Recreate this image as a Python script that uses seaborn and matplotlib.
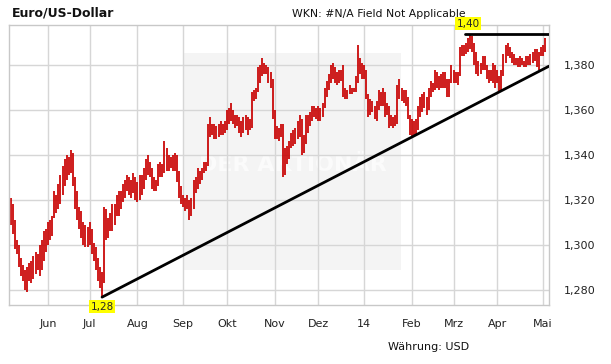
import numpy as np
import pandas as pd
import matplotlib
matplotlib.use("Agg")
import matplotlib.pyplot as plt
import seaborn as sns
from matplotlib.patches import Rectangle

# trading days shown in the chart
dates = pd.bdate_range("2013-05-08", "2014-05-02")

lows = [
    1.309, 1.305, 1.298, 1.296, 1.290, 1.286, 1.284, 1.280, 1.279, 1.284,
    1.283, 1.285, 1.287, 1.289, 1.286, 1.289, 1.293, 1.297, 1.300, 1.302,
    1.304, 1.312, 1.314, 1.316, 1.318, 1.322, 1.326, 1.329, 1.331, 1.332,
    1.326, 1.316, 1.311, 1.307, 1.303, 1.300, 1.299, 1.299, 1.300, 1.296,
    1.293, 1.289, 1.284, 1.281, 1.2768, 1.283, 1.302, 1.303, 1.306, 1.306,
    1.309, 1.313, 1.313, 1.316, 1.319, 1.321, 1.324, 1.322, 1.321, 1.323,
    1.320, 1.319, 1.320, 1.322, 1.325, 1.329, 1.331, 1.330, 1.325, 1.324,
    1.324, 1.326, 1.330, 1.330, 1.332, 1.333, 1.333, 1.334, 1.333, 1.333,
    1.328, 1.321, 1.318, 1.317, 1.315, 1.316, 1.311, 1.313, 1.316, 1.323,
    1.325, 1.327, 1.329, 1.332, 1.333, 1.335, 1.348, 1.349, 1.347, 1.347,
    1.348, 1.349, 1.349, 1.350, 1.351, 1.354, 1.355, 1.354, 1.352, 1.353,
    1.350, 1.348, 1.350, 1.351, 1.349, 1.351, 1.352, 1.364, 1.365, 1.368,
    1.372, 1.375, 1.376, 1.376, 1.372, 1.370, 1.356, 1.347, 1.347, 1.346,
    1.348, 1.330, 1.331, 1.336, 1.338, 1.343, 1.344, 1.345, 1.347, 1.348,
    1.340, 1.341, 1.345, 1.350, 1.353, 1.355, 1.357, 1.356, 1.355, 1.355,
    1.357, 1.361, 1.366, 1.369, 1.372, 1.374, 1.372, 1.371, 1.372, 1.373,
    1.366, 1.365, 1.365, 1.367, 1.367, 1.368, 1.368, 1.372, 1.376, 1.374,
    1.374, 1.365, 1.357, 1.358, 1.359, 1.356, 1.355, 1.360, 1.362, 1.362,
    1.357, 1.358, 1.352, 1.353, 1.352, 1.353, 1.354, 1.365, 1.364, 1.363,
    1.362, 1.356, 1.349, 1.348, 1.349, 1.349, 1.351, 1.357, 1.359, 1.361,
    1.358, 1.360, 1.366, 1.368, 1.369, 1.370, 1.369, 1.370, 1.370, 1.370,
    1.366, 1.366, 1.372, 1.372, 1.372, 1.371, 1.375, 1.384, 1.384, 1.385,
    1.386, 1.387, 1.386, 1.380, 1.376, 1.375, 1.376, 1.378, 1.378, 1.374,
    1.372, 1.373, 1.372, 1.370, 1.372, 1.368, 1.369, 1.375, 1.381, 1.384,
    1.383, 1.381, 1.380, 1.380, 1.379, 1.379, 1.380, 1.379, 1.379, 1.380,
    1.380, 1.381, 1.382, 1.379, 1.378, 1.384, 1.384, 1.386,
]
highs = [
    1.321, 1.318, 1.311, 1.302, 1.300, 1.294, 1.291, 1.289, 1.290, 1.292,
    1.293, 1.295, 1.297, 1.296, 1.300, 1.302, 1.306, 1.307, 1.310, 1.311,
    1.313, 1.324, 1.322, 1.327, 1.331, 1.335, 1.338, 1.340, 1.339, 1.342,
    1.341, 1.330, 1.324, 1.317, 1.315, 1.310, 1.309, 1.308, 1.310, 1.307,
    1.301, 1.299, 1.294, 1.290, 1.288, 1.317, 1.316, 1.312, 1.314, 1.318,
    1.318, 1.322, 1.324, 1.324, 1.327, 1.329, 1.331, 1.330, 1.329, 1.332,
    1.330, 1.328, 1.331, 1.331, 1.334, 1.338, 1.340, 1.337, 1.334, 1.330,
    1.329, 1.336, 1.337, 1.336, 1.346, 1.343, 1.340, 1.339, 1.340, 1.341,
    1.340, 1.333, 1.326, 1.322, 1.321, 1.322, 1.320, 1.321, 1.329, 1.330,
    1.334, 1.333, 1.334, 1.337, 1.337, 1.354, 1.357, 1.354, 1.354, 1.353,
    1.354, 1.355, 1.354, 1.355, 1.360, 1.361, 1.363, 1.360, 1.358, 1.358,
    1.357, 1.355, 1.357, 1.358, 1.357, 1.356, 1.368, 1.369, 1.370, 1.379,
    1.380, 1.383, 1.381, 1.380, 1.379, 1.377, 1.374, 1.360, 1.353, 1.352,
    1.354, 1.354, 1.343, 1.344, 1.346, 1.350, 1.351, 1.352, 1.355, 1.358,
    1.356, 1.349, 1.358, 1.358, 1.359, 1.362, 1.362, 1.361, 1.362, 1.361,
    1.363, 1.370, 1.373, 1.376, 1.380, 1.381, 1.379, 1.377, 1.378, 1.378,
    1.380, 1.370, 1.369, 1.371, 1.370, 1.370, 1.375, 1.389, 1.383, 1.381,
    1.380, 1.378, 1.367, 1.365, 1.364, 1.362, 1.364, 1.369, 1.368, 1.370,
    1.368, 1.363, 1.362, 1.358, 1.357, 1.358, 1.371, 1.374, 1.370, 1.369,
    1.369, 1.366, 1.358, 1.356, 1.355, 1.356, 1.362, 1.366, 1.367, 1.368,
    1.366, 1.370, 1.373, 1.372, 1.378, 1.377, 1.375, 1.376, 1.377, 1.377,
    1.374, 1.374, 1.380, 1.378, 1.377, 1.377, 1.388, 1.389, 1.389, 1.390,
    1.392, 1.394, 1.393, 1.390, 1.386, 1.382, 1.381, 1.384, 1.384, 1.380,
    1.378, 1.378, 1.381, 1.380, 1.378, 1.375, 1.378, 1.385, 1.389, 1.390,
    1.388, 1.386, 1.385, 1.383, 1.383, 1.384, 1.383, 1.382, 1.384, 1.384,
    1.385, 1.386, 1.387, 1.387, 1.386, 1.388, 1.389, 1.392,
]

month_labels = ["Jun", "Jul", "Aug", "Sep", "Okt", "Nov", "Dez", "14",
                "Feb", "Mrz", "Apr", "Mai"]
y_ticks = [1.28, 1.30, 1.32, 1.34, 1.36, 1.38]
y_labels = ["1,280", "1,300", "1,320", "1,340", "1,360", "1,380"]
low_label = "1,28"
high_label = "1,40"

df = pd.DataFrame({"date": dates, "low": lows, "high": highs})
df["pos"] = np.arange(len(df))
month_pos = df.groupby(df["date"].dt.to_period("M"))["pos"].min().iloc[1:]

sns.set_style("white")
plt.rcParams["font.family"] = ["DejaVu Sans"]

fig = plt.figure(figsize=(6.11, 3.64), dpi=100)
ax = fig.add_axes([9 / 611, 59 / 364, 540 / 611, 280 / 364])

x_min, x_max = -0.75, 258.9
ax.set_xlim(x_min, x_max)
ax.set_ylim(1.2733, 1.3978)

# watermark box
ax.add_patch(Rectangle((0.324, 0.125), 0.402, 0.775, transform=ax.transAxes,
                       facecolor="#f4f4f4", edgecolor="none", zorder=0.2))
ax.text(0.525, 0.5, "DER AKTIONÄR", transform=ax.transAxes, ha="center",
        va="center", fontsize=16, fontweight="bold", color="#fbfbfb", zorder=0.3)

# daily high-low bars
ax.vlines(df["pos"], df["low"], df["high"], color="#c80000", lw=1.25, zorder=2)

# support line through the two lows
i_a = int(np.argmin(lows))
i_b = 180 + int(np.argmin(lows[180:]))
slope = (lows[i_b] - lows[i_a]) / (i_b - i_a)
sns.lineplot(x=[i_a, x_max], y=[lows[i_a], lows[i_a] + slope * (x_max - i_a)],
             ax=ax, color="black", lw=2, zorder=3)

# resistance line at the top
i_top = int(np.argmax(highs))
sns.lineplot(x=[i_top - 2.5, x_max], y=[highs[i_top], highs[i_top]],
             ax=ax, color="black", lw=2, zorder=3)

box = dict(boxstyle="square,pad=0.15", fc="#ffff00", ec="none")
ax.annotate(low_label, xy=(i_a, lows[i_a]), xytext=(0, -7), textcoords="offset points",
            ha="center", va="center", fontsize=7.5, bbox=box, annotation_clip=False, zorder=5)
ax.annotate(high_label, xy=(i_top - 1, highs[i_top]), xytext=(0, 7),
            textcoords="offset points", ha="center", va="center", fontsize=7.5,
            bbox=box, annotation_clip=False, zorder=5)

ax.set_xticks(month_pos.values)
ax.set_xticklabels(month_labels)
ax.set_yticks(y_ticks)
ax.set_yticklabels(y_labels)
ax.yaxis.tick_right()
ax.tick_params(axis="both", length=0, labelsize=8, colors="#222222")
ax.tick_params(axis="x", pad=10)
ax.tick_params(axis="y", pad=11)
for lab in ax.get_yticklabels():
    lab.set_horizontalalignment("left")

ax.grid(True, color="#d6d6d6", lw=1)
ax.set_axisbelow(True)
for sp in ax.spines.values():
    sp.set_color("#c8c8c8")
    sp.set_linewidth(1)
ax.set_xlabel("")
ax.set_ylabel("")

fig.text(12 / 611, 1 - 13 / 364, "Euro/US-Dollar", fontsize=9, fontweight="bold",
         va="center", ha="left", color="#111111")
fig.text(292 / 611, 1 - 14 / 364, "WKN: #N/A Field Not Applicable", fontsize=7.8,
         va="center", ha="left", color="#111111")
fig.text(388 / 611, 1 - 347 / 364, "Währung: USD", fontsize=8,
         va="center", ha="left", color="#111111")

fig.savefig("out.png", dpi=100, facecolor="white")
